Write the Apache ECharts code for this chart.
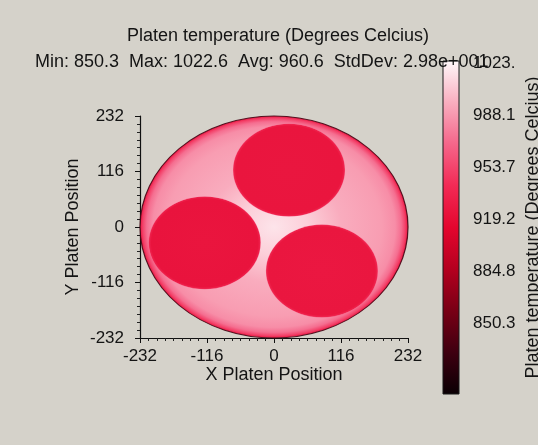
<!DOCTYPE html>
<html>
<head>
<meta charset="utf-8">
<script src="https://cdn.jsdelivr.net/npm/echarts@6/dist/echarts.min.js"></script>
<style>
  html, body { margin: 0; padding: 0; background: #d5d2ca; }
  #chart { width: 538px; height: 445px; }
</style>
</head>
<body>
<div id="chart"></div>
<script>
// Platen geometry (mm) and temperature readings (degrees Celsius)
const platenRadius = 232;
const axisTicks = [-232, -116, 0, 116, 232];

// Radial temperature profile of the bare platen: fraction of radius -> temperature
const platenProfilePos = [0, 0.25, 0.5, 0.8, 0.9, 0.945, 0.975, 0.99, 1.0];
const platenProfileTemp = [1017, 1009, 996, 990, 984, 972, 952, 934, 926];

// Wafers sitting on the platen
const waferX = [26, -120, 83];
const waferY = [119, -33, -92];
const waferR = [97, 97, 97];
const waferTemp = [925, 924, 926];

// Colour bar
const cbMin = 803;
const cbMax = 1024.4;
const cbTickValues = [850.3, 884.8, 919.2, 953.7, 988.1, 1022.6];
const cbTickLabels = ['850.3', '884.8', '919.2', '953.7', '988.1', '1023.'];
const cbColors = ['#0a0004', '#3e0010', '#780015', '#b4001f', '#e4062e',
                  '#f22a55', '#f5668a', '#f9aebf', '#fff8fa'];

const summaryText = 'Min: 850.3  Max: 1022.6  Avg: 960.6  StdDev: 2.98e+001';
const titleText = 'Platen temperature (Degrees Celcius)';

const FONT = '"Liberation Sans", Arial, sans-serif';
const INK = '#141414';

function tempColor(t) {
  const f = Math.min(1, Math.max(0, (t - cbMin) / (cbMax - cbMin)));
  return echarts.color.lerp(f, cbColors);
}

function ellipseItem(api, stops, stroke) {
  const c = api.coord([api.value(0), api.value(1)]);
  const s = api.size([api.value(2), api.value(2)]);
  const rx = s[0], ry = s[1];
  return {
    type: 'circle',
    x: c[0], y: c[1],
    scaleX: rx / ry, scaleY: 1,
    shape: { cx: 0, cy: 0, r: ry },
    style: {
      fill: new echarts.graphic.RadialGradient(0.5, 0.5, 0.5, stops),
      stroke: stroke || null,
      lineWidth: stroke ? 1 : 0,
      strokeNoScale: true
    }
  };
}

const platenStops = platenProfilePos.map((p, i) => ({ offset: p, color: tempColor(platenProfileTemp[i]) }));

const waferData = waferX.map((x, i) => [x, waferY[i], waferR[i], waferTemp[i]]);

const chart = echarts.init(document.getElementById('chart'), null, { renderer: 'canvas' });

chart.setOption({
  animation: false,
  backgroundColor: '#d5d2ca',
  textStyle: { fontFamily: FONT },
  title: [
    {
      text: titleText, left: 273, top: 22, textAlign: 'center',
      textStyle: { fontFamily: FONT, fontSize: 18, fontWeight: 'normal', color: INK }
    },
    {
      text: summaryText, left: 30, top: 48,
      textStyle: { fontFamily: FONT, fontSize: 18, fontWeight: 'normal', color: INK }
    }
  ],
  grid: [
    { left: 140, top: 116, width: 268, height: 222, outerBoundsMode: 'none' },
    { left: 443, top: 61, width: 16, height: 333, outerBoundsMode: 'none' }
  ],
  xAxis: [
    {
      gridIndex: 0, type: 'value',
      min: axisTicks[0], max: axisTicks[axisTicks.length - 1], interval: 116,
      name: 'X Platen Position', nameLocation: 'middle', nameGap: 28,
      nameTextStyle: { fontFamily: FONT, fontSize: 18, color: INK },
      axisLine: { show: true, onZero: false, lineStyle: { color: '#111', width: 1.2 } },
      axisTick: { show: true, length: 5, lineStyle: { color: '#111' } },
      minorTick: { show: true, splitNumber: 8, length: 3, lineStyle: { color: '#222' } },
      splitLine: { show: false },
      axisLabel: { fontFamily: FONT, fontSize: 17, color: INK, margin: 10 }
    },
    { gridIndex: 1, type: 'value', min: 0, max: 1, show: false }
  ],
  yAxis: [
    {
      gridIndex: 0, type: 'value',
      min: axisTicks[0], max: axisTicks[axisTicks.length - 1], interval: 116,
      name: 'Y Platen Position', nameLocation: 'middle', nameGap: 58,
      nameTextStyle: { fontFamily: FONT, fontSize: 18, color: INK },
      axisLine: { show: true, onZero: false, lineStyle: { color: '#111', width: 1.2 } },
      axisTick: { show: true, length: 5, lineStyle: { color: '#111' } },
      minorTick: { show: true, splitNumber: 7, length: 3, lineStyle: { color: '#222' } },
      splitLine: { show: false },
      axisLabel: { fontFamily: FONT, fontSize: 17, color: INK, margin: 16 }
    },
    {
      gridIndex: 1, type: 'value', position: 'right',
      min: cbMin, max: cbMax,
      name: titleText, nameLocation: 'middle', nameGap: 65, nameRotate: 90,
      nameTextStyle: { fontFamily: FONT, fontSize: 18, color: INK },
      axisLine: { show: false },
      axisTick: { show: true, length: 4, customValues: cbTickValues, lineStyle: { color: '#222' } },
      splitLine: { show: false },
      axisLabel: {
        customValues: cbTickValues,
        fontFamily: FONT, fontSize: 17, color: INK, margin: 14,
        formatter: v => {
          const i = cbTickValues.findIndex(t => Math.abs(t - v) < 1e-6);
          return i >= 0 ? cbTickLabels[i] : '';
        }
      }
    }
  ],
  series: [
    {
      type: 'custom', name: 'platen', xAxisIndex: 0, yAxisIndex: 0, clip: false,
      data: [[0, 0, platenRadius]],
      renderItem: (params, api) => ellipseItem(api, platenStops, 'rgba(70,5,20,0.9)')
    },
    {
      type: 'custom', name: 'wafers', xAxisIndex: 0, yAxisIndex: 0, clip: false,
      data: waferData,
      renderItem: (params, api) => {
        const t = api.value(3);
        const stops = [
          { offset: 0, color: tempColor(t + 1) },
          { offset: 0.95, color: tempColor(t) },
          { offset: 0.985, color: tempColor(t + 10) },
          { offset: 1, color: tempColor(t + 35) }
        ];
        return ellipseItem(api, stops, null);
      }
    },
    {
      type: 'custom', name: 'colorbar', xAxisIndex: 1, yAxisIndex: 1, clip: false,
      data: [[0, cbMin, 1, cbMax]],
      renderItem: (params, api) => {
        const top = api.coord([api.value(0), api.value(3)]);
        const bot = api.coord([api.value(2), api.value(1)]);
        const stops = cbColors.map((c, i) => ({ offset: 1 - i / (cbColors.length - 1), color: c }))
                              .reverse();
        return {
          type: 'rect',
          shape: { x: top[0], y: top[1], width: bot[0] - top[0], height: bot[1] - top[1] },
          style: {
            fill: new echarts.graphic.LinearGradient(0, 0, 0, 1, stops),
            stroke: '#1a1a1a', lineWidth: 1
          }
        };
      }
    }
  ]
});
</script>
</body>
</html>
